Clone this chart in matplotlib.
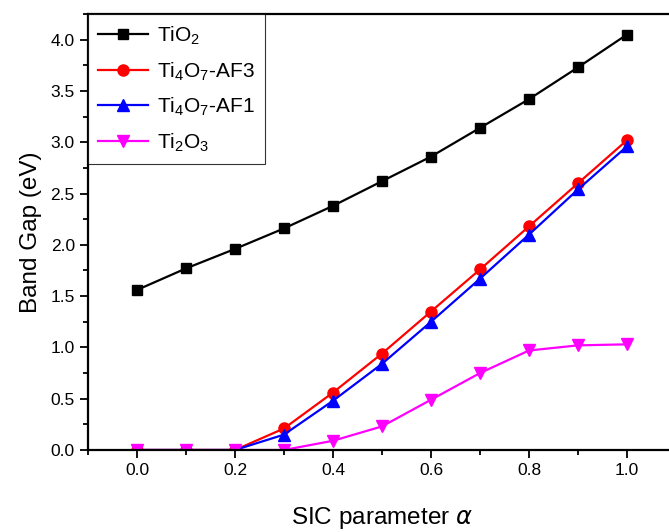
import matplotlib.pyplot as plt
from matplotlib.ticker import MultipleLocator

plt.rcParams["font.family"] = ["Liberation Sans", "DejaVu Sans"]
plt.rcParams["mathtext.fontset"] = "custom"
plt.rcParams["mathtext.rm"] = "Liberation Sans"

alpha = [0.0, 0.1, 0.2, 0.3, 0.4, 0.5, 0.6, 0.7, 0.8, 0.9, 1.0]
tio2 = [1.56, 1.77, 1.96, 2.16, 2.38, 2.62, 2.86, 3.14, 3.42, 3.73, 4.05]
ti4o7_af3 = [0.0, 0.0, 0.0, 0.21, 0.56, 0.94, 1.35, 1.76, 2.18, 2.60, 3.02]
ti4o7_af1 = [0.0, 0.0, 0.0, 0.15, 0.48, 0.84, 1.25, 1.67, 2.10, 2.54, 2.96]
ti2o3 = [0.0, 0.0, 0.0, 0.0, 0.09, 0.23, 0.49, 0.75, 0.97, 1.02, 1.03]

labels = [r"TiO$_2$", r"Ti$_4$O$_7$-AF3", r"Ti$_4$O$_7$-AF1", r"Ti$_2$O$_3$"]

fig = plt.figure(figsize=(6.69, 5.32), dpi=100)
ax = fig.add_axes([88 / 669, 82 / 532, 588 / 669, 436 / 532])

ax.plot(alpha, tio2, color="black", marker="s", markersize=7.5, lw=1.6, label=labels[0])
ax.plot(alpha, ti4o7_af3, color="red", marker="o", markersize=8, lw=1.6, label=labels[1])
ax.plot(alpha, ti4o7_af1, color="blue", marker="^", markersize=8.5, lw=1.6, label=labels[2])
ax.plot(alpha, ti2o3, color="magenta", marker="v", markersize=8.5, lw=1.6, label=labels[3])

ax.set_xlim(-0.1, 1.1)
ax.set_ylim(0, 4.25)
ax.xaxis.set_major_locator(MultipleLocator(0.2))
ax.xaxis.set_minor_locator(MultipleLocator(0.1))
ax.yaxis.set_major_locator(MultipleLocator(0.5))
ax.yaxis.set_minor_locator(MultipleLocator(0.25))
ax.xaxis.set_major_formatter(plt.FormatStrFormatter("%.1f"))
ax.yaxis.set_major_formatter(plt.FormatStrFormatter("%.1f"))
ax.tick_params(which="both", direction="out", width=1.3, labelsize=12.5)
ax.tick_params(which="major", length=6)
ax.tick_params(which="minor", length=3.5)
ax.tick_params(top=False, right=False)
for s in ax.spines.values():
    s.set_linewidth(1.6)

ax.set_xlabel(r"SIC parameter $\alpha$", fontsize=17.5, labelpad=19)
ax.set_ylabel("Band Gap (eV)", fontsize=17.5, labelpad=6)

leg = ax.legend(loc="upper left", fontsize=15, frameon=True, fancybox=False,
                edgecolor="black", borderaxespad=0, handlelength=2.4,
                handletextpad=0.4, labelspacing=0.62, borderpad=0.5)
leg.get_frame().set_linewidth(0.8)

fig.savefig("out.png", dpi=100)
